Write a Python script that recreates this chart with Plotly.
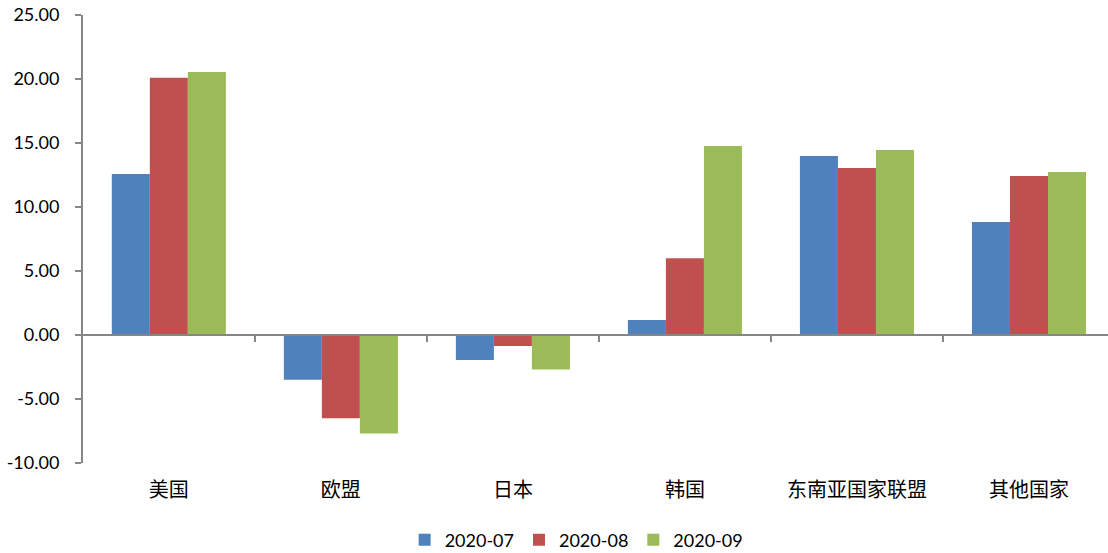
import plotly.graph_objects as go

categories = ["美国", "欧盟", "日本", "韩国", "东南亚国家联盟", "其他国家"]
series_names = ["2020-07", "2020-08", "2020-09"]
v_2020_07 = [12.58, -3.50, -1.95, 1.17, 13.98, 8.83]
v_2020_08 = [20.10, -6.50, -0.86, 6.00, 13.05, 12.42]
v_2020_09 = [20.55, -7.70, -2.70, 14.77, 14.45, 12.73]
y_ticks = [-10, -5, 0, 5, 10, 15, 20, 25]

colors = ["#4F81BD", "#C0504D", "#9BBB59"]
axis_gray = "#868686"
num_font = "Lato, 'Open Sans', sans-serif"
cjk_font = "'Noto Sans CJK SC', sans-serif"

fig = go.Figure()
for name, vals, col in zip(series_names, [v_2020_07, v_2020_08, v_2020_09], colors):
    fig.add_trace(go.Bar(x=categories, y=vals, name=name, marker=dict(color=col, line=dict(width=0)),
                         hoverinfo="x+y+name"))

# invisible helper trace for the zero-anchored category axis with boundary ticks
fig.add_trace(go.Scatter(x=categories, y=[0] * len(categories), xaxis="x2", mode="markers",
                         marker=dict(opacity=0), showlegend=False, hoverinfo="skip"))

W, H = 1108, 553
ml, mt, mb = 83, 15, 90
full_plot_px = 6 * 172
xr = [-0.499, -0.5 + 6 * (W - ml) / full_plot_px]
ymin, ymax = -10, 25

fig.update_layout(
    width=W, height=H,
    margin=dict(l=ml, r=0, t=mt, b=mb, pad=0),
    paper_bgcolor="white", plot_bgcolor="white",
    barmode="group", bargap=0.337, bargroupgap=0,
    showlegend=True,
    legend=dict(orientation="h", xref="container", yref="container", x=0.52, y=1 - 540 / H,
                xanchor="center", yanchor="middle", itemwidth=30,
                font=dict(family=num_font, size=18, color="#000000"), traceorder="normal"),
    xaxis=dict(type="category", categoryorder="array", categoryarray=categories, range=xr,
               showline=False, ticks="", showgrid=False, zeroline=False,
               tickfont=dict(family=cjk_font, size=20, color="#000000"), ticklabelstandoff=13),
    xaxis2=dict(type="category", categoryorder="array", categoryarray=categories, range=xr,
                overlaying="x", anchor="free", position=(0 - ymin) / (ymax - ymin),
                showline=True, linecolor=axis_gray, linewidth=2,
                ticks="outside", tickson="boundaries", ticklen=6, tickwidth=2, tickcolor=axis_gray,
                showticklabels=False, showgrid=False, zeroline=False),
    yaxis=dict(range=[ymin, ymax], tickmode="array", tickvals=y_ticks,
               ticktext=[f"{v:.2f}" for v in y_ticks],
               showline=True, linecolor=axis_gray, linewidth=2,
               ticks="outside", ticklen=6, tickwidth=2, tickcolor=axis_gray,
               showgrid=False, zeroline=False,
               tickfont=dict(family=num_font, size=18, color="#000000"), ticklabelstandoff=12),
)

fig.write_html("out.html")
